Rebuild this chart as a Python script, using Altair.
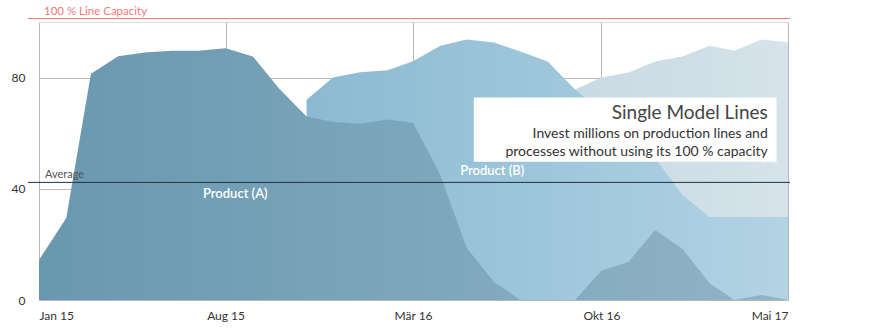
import altair as alt
import pandas as pd
import json

# ---- data ----
months = pd.date_range("2015-01-01", "2017-05-01", freq="MS").strftime("%Y-%m-%d").tolist()

product_a = [14.4, 29.5, 81.4, 87.7, 89.0, 89.7, 89.7, 90.6, 87.6, 76.0, 66.0, 64.0,
             63.4, 64.9, 63.8, 45.0, 18.7, 6.5, 0.0, 0.0, 0.0, 10.5, 13.8, 25.2,
             18.4, 6.0, 0.0, 1.8, 0.0]
product_b = [None] * 10 + [72.0, 80.0, 81.9, 82.6, 85.9, 91.5, 93.7, 92.6, 89.4, 85.8,
                           75.7, 68.0, 60.0, 51.0, 37.8, 29.9, 29.9, 29.9, 29.9]
product_c = [None] * 20 + [75.7, 80.0, 81.8, 85.8, 87.6, 91.5, 89.7, 93.7, 92.6]

series_names = ["Product (A)", "Product (B)", "Product (C)"]

tick_values = ["2015-01-01", "2015-08-01", "2016-03-01", "2016-10-01", "2017-05-01"]
tick_labels = ["Jan 15", "Aug 15", "Mär 16", "Okt 16", "Mai 17"]

capacity_value = 100
capacity_label = "100 % Line Capacity"
average_value = 42.3
average_label = "Average"

# series label positions (date, value)
label_dates = ["2015-08-12", "2016-05-30", "2017-03-12"]
label_values = [38.2, 46.5, 51.5]

# annotation box
box_x = ["2016-05-09"]
box_x2 = ["2017-04-18"]
box_y = [72.8]
box_y2 = [49.7]
box_title = "Single Model Lines"
box_lines = ["Invest millions on production lines and",
             "processes without using its 100 % capacity"]
box_text_date = "2017-04-08"
box_title_value = 67.4
box_line_values = [59.6, 53.2]

# ---- tables ----
rows = []
for name, vals in zip(series_names, [product_a, product_b, product_c]):
    for d, v in zip(months, vals):
        if v is not None:
            rows.append({"date": d, "value": v, "series": name})
df = pd.DataFrame(rows)

labels_df = pd.DataFrame({"date": label_dates, "value": label_values, "text": series_names})
ref_df = pd.DataFrame({"cap": [capacity_value], "avg": [average_value],
                       "cap_text": [capacity_label], "avg_text": [average_label]})
box_df = pd.DataFrame({"x": box_x, "x2": box_x2, "y": box_y, "y2": box_y2})
box_text_df = pd.DataFrame({
    "date": [box_text_date] * 3,
    "value": [box_title_value] + box_line_values,
    "text": [box_title] + box_lines,
    "kind": ["title", "line", "line"],
})

label_map = {}
for v, l in zip(tick_values, tick_labels):
    y, m, _ = v.split("-")
    label_map[f"{int(y)}-{int(m) - 1}"] = l
label_expr = json.dumps(label_map) + "[utcyear(datum.value) + '-' + utcmonth(datum.value)]"

FONT = "Lato"

x_scale = alt.Scale(type="utc", domain=["2015-01-01", "2017-05-01"], nice=False)
y_scale = alt.Scale(domain=[0, 100], nice=False)

x_enc = alt.X("date:T", scale=x_scale, title=None,
              axis=alt.Axis(values=tick_values, labelExpr=label_expr, grid=True,
                            gridColor="#b8b8b8", domain=False, ticks=False,
                            labelPadding=10, labelFontSize=12, labelColor="#333333",
                            labelFont=FONT, labelAngle=0))
y_enc = alt.Y("value:Q", scale=y_scale, title=None,
              axis=alt.Axis(values=[0, 40, 80], grid=True, gridColor="#b8b8b8",
                            domain=False, ticks=False, labelPadding=14,
                            labelFontSize=12, labelColor="#333333", labelFont=FONT))


def grad(c0, c1):
    return alt.Gradient(gradient="linear",
                        stops=[alt.GradientStop(color=c0, offset=0),
                               alt.GradientStop(color=c1, offset=1)],
                        x1=0, x2=1, y1=0, y2=0)


base = alt.Chart(df)
area_c = base.transform_filter(alt.datum.series == series_names[2]).mark_area(
    color=grad("#c8dae3", "#d6e3ea")).encode(x=x_enc, y=y_enc)
area_b = base.transform_filter(alt.datum.series == series_names[1]).mark_area(
    color=grad("#8bbad2", "#b2d3e4")).encode(x=x_enc, y=y_enc)
area_a = base.transform_filter(alt.datum.series == series_names[0]).mark_area(
    color=grad("#6898b0", "#92b4c6")).encode(x=x_enc, y=y_enc)

series_labels = alt.Chart(labels_df).mark_text(
    color="white", fontSize=13, font=FONT, fontWeight=600, align="center", baseline="middle"
).encode(x=alt.X("date:T", scale=x_scale), y=alt.Y("value:Q", scale=y_scale), text="text:N")

ref = alt.Chart(ref_df)
cap_rule = ref.mark_rule(color="#f47a7a", strokeWidth=1, yOffset=-3.5, clip=False).encode(
    y=alt.Y("cap:Q", scale=y_scale), x=alt.value(-11), x2=alt.value(751))
cap_text = ref.mark_text(color="#f47a7a", fontSize=11.5, font=FONT, align="left",
                         baseline="alphabetic", dy=-7).encode(
    y=alt.Y("cap:Q", scale=y_scale), x=alt.value(5), text="cap_text:N")
avg_rule = ref.mark_rule(color="#1d3444", strokeWidth=1).encode(
    y=alt.Y("avg:Q", scale=y_scale), x=alt.value(-11), x2=alt.value(751))
avg_text = ref.mark_text(color="#555555", fontSize=11, font=FONT, align="left",
                         baseline="alphabetic", dy=-4).encode(
    y=alt.Y("avg:Q", scale=y_scale), x=alt.value(6), text="avg_text:N")

box = alt.Chart(box_df).mark_rect(color="white").encode(
    x=alt.X("x:T", scale=x_scale), x2="x2:T",
    y=alt.Y("y:Q", scale=y_scale), y2="y2:Q")

bt = alt.Chart(box_text_df)
box_title_mark = bt.transform_filter(alt.datum.kind == "title").mark_text(
    color="#444444", fontSize=19, font=FONT, align="right", baseline="middle").encode(
    x=alt.X("date:T", scale=x_scale), y=alt.Y("value:Q", scale=y_scale), text="text:N")
box_lines_mark = bt.transform_filter(alt.datum.kind == "line").mark_text(
    color="#333333", fontSize=14, font=FONT, align="right", baseline="middle").encode(
    x=alt.X("date:T", scale=x_scale), y=alt.Y("value:Q", scale=y_scale), text="text:N")

chart = alt.layer(
    area_c, area_b, area_a, series_labels, avg_rule, avg_text, cap_rule, cap_text,
    box, box_title_mark, box_lines_mark
).properties(
    width=749, height=278,
    autosize=alt.AutoSizeParams(type="none"),
    padding={"left": 39, "top": 22, "right": 85, "bottom": 32},
).configure_view(stroke=None).configure(font=FONT, background="white")

chart.save("out.html", embed_options={"renderer": "svg", "actions": False})
